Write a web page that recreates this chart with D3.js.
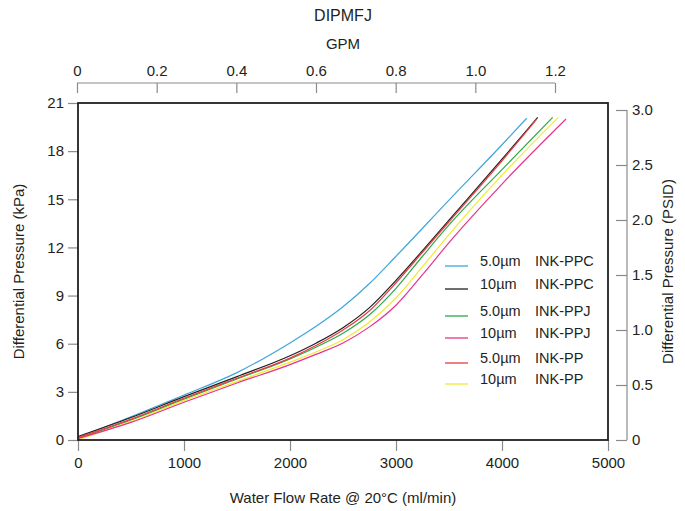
<!DOCTYPE html>
<html>
<head>
<meta charset="utf-8">
<script src="https://cdn.jsdelivr.net/npm/d3@7"></script>
<style>
  body { margin: 0; background: #fff; }
  text { font-family: "Liberation Sans", Arial, sans-serif; fill: #231f20; }
</style>
</head>
<body>
<div id="chart"></div>
<script>
// flow in ml/min, pressure in kPa
const ppc50 = [[0, 0.17], [500, 1.45], [1000, 2.8], [1500, 4.2], [2000, 6.05], [2250, 7.1], [2500, 8.3], [2750, 9.75], [3000, 11.45], [3500, 14.95], [4000, 18.4], [4233, 20.05]];
const ppc10 = [[0, 0.22], [500, 1.4], [1000, 2.7], [1500, 3.95], [2000, 5.25], [2250, 6.05], [2500, 7.0], [2750, 8.25], [3000, 9.95], [3250, 11.8], [3500, 13.7], [4000, 17.5], [4337, 20.1]];
const ppj50 = [[0, 0.1], [500, 1.25], [1000, 2.55], [1500, 3.8], [2000, 5.05], [2250, 5.8], [2500, 6.65], [2750, 7.8], [3000, 9.45], [3250, 11.45], [3500, 13.4], [4000, 16.85], [4478, 20.1]];
const ppj10 = [[0, 0.1], [500, 1.1], [1000, 2.35], [1500, 3.55], [2000, 4.7], [2250, 5.35], [2500, 6.05], [2750, 7.05], [3000, 8.4], [3250, 10.3], [3500, 12.3], [4000, 15.95], [4604, 20.0]];
const pp50 = [[0, 0.15], [500, 1.3], [1000, 2.6], [1500, 3.85], [2000, 5.1], [2250, 5.9], [2500, 6.85], [2750, 8.05], [3000, 9.8], [3250, 11.7], [3500, 13.6], [4000, 17.4], [4327, 20.0]];
const pp10 = [[0, 0.0], [500, 1.15], [1000, 2.45], [1500, 3.65], [2000, 4.85], [2250, 5.5], [2500, 6.25], [2750, 7.35], [3000, 8.85], [3250, 10.8], [3500, 12.8], [4000, 16.5], [4531, 20.1]];

const seriesNames = ["5.0µm|INK-PPC", "10µm|INK-PPC", "5.0µm|INK-PPJ", "10µm|INK-PPJ", "5.0µm|INK-PP", "10µm|INK-PP"];
const seriesColors = ["#3ea6da", "#231f20", "#2ca84c", "#e5338c", "#e83a3f", "#f2ea2e"];
const seriesData = [ppc50, ppc10, ppj50, ppj10, pp50, pp10];
// draw order (black/red on top like the original)
const drawOrder = [0, 2, 5, 3, 1, 4];

const xTicks = [0, 1000, 2000, 3000, 4000, 5000];
const yTicks = [0, 3, 6, 9, 12, 15, 18, 21];
const gpmTicks = [0, 0.2, 0.4, 0.6, 0.8, 1.0, 1.2];
const psiTicks = [0, 0.5, 1.0, 1.5, 2.0, 2.5, 3.0];

const W = 685, H = 511;
const plot = { left: 78, right: 608, top: 103, bottom: 440 };

const svg = d3.select("#chart").append("svg")
    .attr("width", W)
    .attr("height", H);

const x = d3.scaleLinear().domain([0, 5000]).range([plot.left, plot.right]);
const y = d3.scaleLinear().domain([0, 21]).range([plot.bottom, plot.top]);
const gpm = d3.scaleLinear().domain([0, 1.2]).range([77, 555]);
const psi = d3.scaleLinear().domain([0, 3]).range([plot.bottom, 110]);

function styleAxis(g) {
    g.select(".domain").remove();
    g.selectAll(".tick line").attr("stroke", "#8a8a8a").attr("stroke-width", 1.2);
    g.selectAll(".tick text").style("font-size", "15px").attr("fill", "#231f20");
}

const oneDec = d => d === 0 ? "0" : d3.format(".1f")(d);

// bottom axis
svg.append("g")
    .attr("transform", `translate(0,${plot.bottom})`)
    .call(d3.axisBottom(x).tickValues(xTicks).tickSize(11).tickPadding(6).tickFormat(d3.format("d")))
    .call(styleAxis);

// left axis
svg.append("g")
    .attr("transform", `translate(${plot.left},0)`)
    .call(d3.axisLeft(y).tickValues(yTicks).tickSize(10).tickPadding(4))
    .call(styleAxis);

// top GPM axis
const topG = svg.append("g")
    .attr("transform", "translate(0,83)")
    .call(d3.axisTop(gpm).tickValues(gpmTicks).tickSize(-10).tickPadding(7).tickFormat(oneDec))
    .call(styleAxis);
topG.append("line")
    .attr("x1", gpm(0)).attr("x2", gpm(1.2))
    .attr("stroke", "#8a8a8a").attr("stroke-width", 1.2);

// right PSID axis
const rightG = svg.append("g")
    .attr("transform", "translate(627,0)")
    .call(d3.axisRight(psi).tickValues(psiTicks).tickSize(-11).tickPadding(5).tickFormat(oneDec))
    .call(styleAxis);
rightG.append("line")
    .attr("y1", psi(0)).attr("y2", psi(3))
    .attr("stroke", "#8a8a8a").attr("stroke-width", 1.2);

// lines
const line = d3.line()
    .x(d => x(d[0]))
    .y(d => y(d[1]))
    .curve(d3.curveMonotoneX);

drawOrder.forEach(i => {
    svg.append("path")
        .datum(seriesData[i])
        .attr("fill", "none")
        .attr("stroke", seriesColors[i])
        .attr("stroke-width", 1.2)
        .attr("d", line);
});

// frame
svg.append("rect")
    .attr("x", plot.left).attr("y", plot.top)
    .attr("width", plot.right - plot.left)
    .attr("height", plot.bottom - plot.top)
    .attr("fill", "none")
    .attr("stroke", "#231f20")
    .attr("stroke-width", 1.8);

// legend
const legendY = [266, 289, 316, 338, 363, 384];
seriesNames.forEach((name, i) => {
    const parts = name.split("|");
    const g = svg.append("g").attr("transform", `translate(445,${legendY[i]})`);
    g.append("line")
        .attr("x1", 0).attr("x2", 23)
        .attr("stroke", seriesColors[i]).attr("stroke-width", 1.3);
    g.append("text").attr("x", 35).attr("y", 0)
        .style("font-size", "14.5px").attr("fill", seriesColors[i])
        .text(parts[0]);
    g.append("text").attr("x", 90).attr("y", 0)
        .style("font-size", "14.5px").attr("fill", seriesColors[i])
        .text(parts[1]);
});

// titles
svg.append("text").attr("x", 343).attr("y", 21)
    .attr("text-anchor", "middle").style("font-size", "16px")
    .text("DIPMFJ");
svg.append("text").attr("x", 343).attr("y", 49)
    .attr("text-anchor", "middle").style("font-size", "15px")
    .text("GPM");
svg.append("text").attr("x", 343).attr("y", 503)
    .attr("text-anchor", "middle").style("font-size", "15px")
    .text("Water Flow Rate @ 20°C (ml/min)");
svg.append("text")
    .attr("transform", `translate(24,${(plot.top + plot.bottom) / 2}) rotate(-90)`)
    .attr("text-anchor", "middle").style("font-size", "15px")
    .text("Differential Pressure (kPa)");
svg.append("text")
    .attr("transform", `translate(673,${(plot.top + plot.bottom) / 2}) rotate(-90)`)
    .attr("text-anchor", "middle").style("font-size", "15px")
    .text("Differential Pressure (PSID)");
</script>
</body>
</html>
